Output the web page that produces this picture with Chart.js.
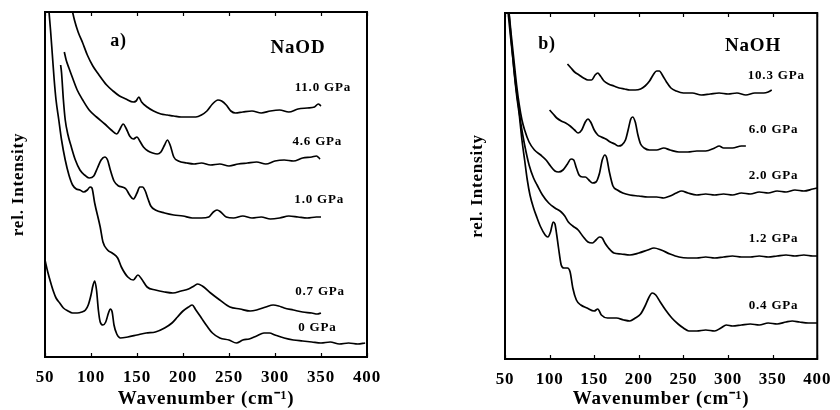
<!DOCTYPE html>
<html>
<head>
<meta charset="utf-8">
<script src="https://cdn.jsdelivr.net/npm/chart.js@4.4.1/dist/chart.umd.min.js"></script>
<style>
  html, body { margin: 0; padding: 0; background: #fff; }
  #wrap { width: 840px; height: 410px; position: relative; }
  canvas { position: absolute; top: 0; }
</style>
</head>
<body>
<div id="wrap">
  <canvas id="naod" width="420" height="410" style="left:0"></canvas>
  <canvas id="naoh" width="420" height="410" style="left:420px"></canvas>
</div>
<script>
// ---- panel a) NaOD, wavenumber (cm-1) / rel. intensity ----
const naodWave110 = [79,82,86,91,96,102,108,117,124,131,138,146,149,152,155,161,168,176,183,190,198,206,214,220,226,232,238,242,247,252,257,265,275,285,295,305,315,325,335,343,347,350];
const naodInt110  = [349,337,325,314,302,291,283,272,266,261,258,255,256,260,255,250,246,243,242,241,240,240,240,242,246,253,257,256,252,246,244,245,246,244,246,247,245,248,249,250,253,251];

const naodWave46 = [71,73,76,80,85,91,98,106,115,122,128,131,135,138,142,146,150,153,157,162,167,172,176,180,183,186,190,195,204,212,220,230,240,250,260,270,280,290,300,310,320,330,340,345,349];
const naodInt46  = [305,297,289,279,267,257,247,240,233,227,223,227,233,229,221,218,220,216,210,206,204,203,205,212,217,212,200,196,194,193,194,192,193,191,193,194,195,193,196,197,196,199,200,201,198];

const naodWave10 = [67,68,70,72,75,78,83,88,93,98,103,107,111,115,118,121,125,130,134,138,142,146,150,153,156,159,162,165,170,180,190,200,210,220,228,233,237,241,247,255,265,275,285,295,305,315,325,335,345,350];
const naodInt10  = [292,284,257,237,222,212,197,187,182,179,181,189,197,200,197,187,176,171,170,168,162,158,164,170,170,166,158,151,147,144,142,141,139,139,140,145,147,145,140,139,141,139,140,138,139,141,140,139,140,140];

const naodWave07 = [54,56,58,60,62,65,68,72,76,80,84,88,92,96,99,101,104,110,113,118,123,129,133,140,146,151,155,161,170,180,189,198,206,212,216,221,230,240,251,262,273,280,290,298,304,310,320,330,340,346,350];
const naodInt07  = [349,327,302,277,257,237,217,197,182,172,168,167,165,167,170,169,154,130,115,107,104,99,90,80,77,82,78,70,67,65,64,66,68,71,73,71,64,57,50,48,46,47,50,52,51,49,47,45,44,43,44];

const naodWave00 = [50,53,56,59,62,66,70,75,80,85,90,94,97,100,102,104,106,108,110,113,116,119,121,123,125,128,132,140,150,160,170,180,188,194,200,206,210,214,220,226,232,240,250,258,265,272,280,288,294,300,310,320,330,340,350,360,370,380,390,398];
const naodInt00  = [97,85,75,66,59,54,49,46,44,44,45,47,52,62,71,76,67,47,35,32,35,44,48,45,32,23,19,20,22,24,25,29,34,40,46,50,52,47,39,31,24,19,17,14,17,18,21,24,24,22,19,17,16,15,14,15,13,14,13,14];

const naodLabels = ['11.0 GPa', '4.6 GPa', '1.0 GPa', '0.7 GPa', '0 GPa'];

// ---- panel b) NaOH ----
const naohWave103 = [120,124,128,133,138,143,147,151,154,157,161,166,172,178,184,190,196,202,207,212,216,220,223,227,231,236,242,250,260,270,280,290,300,310,320,330,340,345,349];
const naohInt103  = [295,291,287,284,281,279,279,284,286,283,278,275,273,271,270,269,269,270,273,278,284,288,288,283,277,271,268,266,266,264,265,266,265,266,264,266,266,267,269];

const naohWave60 = [100,104,108,113,118,123,128,132,136,140,143,146,150,154,158,163,168,173,177,181,185,188,191,193,196,199,202,206,212,220,228,235,245,255,265,275,285,290,295,305,315,320];
const naohInt60  = [249,245,241,238,236,233,229,226,229,237,240,237,229,224,222,220,217,215,213,214,219,229,240,242,237,224,215,211,209,209,211,209,207,207,208,208,211,213,211,211,213,213];

const naohWave20 = [54,57,60,63,66,69,72,77,83,90,96,101,106,110,115,120,124,127,130,133,137,140,144,148,152,156,159,162,164,167,171,176,182,190,200,210,220,228,235,242,248,255,265,275,285,295,305,315,325,335,345,355,365,375,385,395,400];
const naohInt20  = [351,324,299,274,254,239,229,217,209,204,199,193,188,187,189,195,200,199,191,184,182,182,179,176,177,186,199,204,201,187,173,169,166,164,163,162,162,161,163,166,168,166,164,165,164,165,164,166,165,167,166,168,167,169,168,170,171];

const naohWave12 = [53,56,59,62,65,68,72,77,82,86,92,99,106,113,117,121,126,132,137,143,148,152,156,159,162,166,172,180,190,200,210,217,225,235,245,255,265,275,285,295,305,315,325,335,345,355,365,375,385,395,400];
const naohInt12  = [351,324,299,274,254,234,214,194,181,174,164,156,151,147,143,137,133,129,123,117,116,119,122,121,116,111,106,105,104,106,109,111,109,105,102,101,101,102,101,102,103,102,102,103,102,103,104,103,104,103,103];

const naohWave04 = [54,57,60,63,66,69,72,75,78,82,86,90,95,98,101,104,106,108,110,113,116,120,123,126,130,135,142,150,154,158,165,175,183,190,196,202,207,211,215,219,224,230,237,244,250,256,265,275,285,292,298,305,315,325,335,345,355,365,372,380,390,400];
const naohInt04  = [351,319,289,264,244,219,199,179,164,151,141,132,124,122,127,137,135,124,111,94,91,91,87,71,59,54,51,48,50,44,41,41,39,38,41,45,53,61,66,64,57,49,41,35,31,28,28,29,28,31,34,33,34,35,34,36,35,37,38,37,36,36];

const naohLabels = ['10.3 GPa', '6.0 GPa', '2.0 GPa', '1.2 GPa', '0.4 GPa'];

const xTicks = [50, 100, 150, 200, 250, 300, 350, 400];

const SERIF = "'Liberation Serif', 'Times New Roman', serif";

function series(wave, intensity, label) {
  return {
    label: label,
    data: wave.map((w, i) => ({ x: w, y: intensity[i] })),
    borderColor: '#000',
    borderWidth: 1.7,
    pointRadius: 0,
    fill: false,
    cubicInterpolationMode: 'monotone'
  };
}

// letter spacing for the scanned-looking serif text
const spacingPlugin = {
  id: 'spacing',
  beforeDraw(chart) { chart.ctx.letterSpacing = '0.8px'; }
};

// box frame with inward ticks on top and bottom
const framePlugin = {
  id: 'frame',
  afterDraw(chart) {
    const { ctx, chartArea: a } = chart;
    const xs = chart.scales.x;
    ctx.save();
    ctx.strokeStyle = '#000';
    ctx.lineWidth = 2;
    ctx.strokeRect(a.left, a.top, a.right - a.left, a.bottom - a.top);
    ctx.lineWidth = 1.2;
    ctx.beginPath();
    xTicks.forEach(v => {
      const px = Math.round(xs.getPixelForValue(v)) + 0.5;
      ctx.moveTo(px, a.bottom); ctx.lineTo(px, a.bottom - 4);
      ctx.moveTo(px, a.top); ctx.lineTo(px, a.top + 4);
    });
    ctx.stroke();
    ctx.restore();
  }
};

// pressure labels and panel captions, placed in data coordinates
const notesPlugin = {
  id: 'notes',
  afterDatasetsDraw(chart, args, opts) {
    const { ctx } = chart;
    const xs = chart.scales.x, ys = chart.scales.y;
    ctx.save();
    ctx.fillStyle = '#000';
    ctx.textAlign = 'center';
    ctx.textBaseline = 'middle';
    opts.items.forEach(it => {
      ctx.font = 'bold ' + it.size + 'px ' + SERIF;
      ctx.fillText(it.text, xs.getPixelForValue(it.x), ys.getPixelForValue(it.y));
    });
    ctx.restore();
  }
};

function makeChart(id, datasets, notes, box) {
  return new Chart(document.getElementById(id), {
    type: 'line',
    data: { datasets: datasets },
    plugins: [spacingPlugin, framePlugin, notesPlugin],
    options: {
      responsive: false,
      animation: false,
      layout: { padding: { top: box.top, right: box.right, left: 0, bottom: 0 } },
      plugins: {
        legend: { display: false },
        tooltip: { enabled: false },
        notes: { items: notes }
      },
      scales: {
        x: {
          type: 'linear',
          min: 50,
          max: 400,
          grid: { display: false, drawTicks: false, tickLength: 0 },
          border: { display: false },
          ticks: {
            stepSize: 50,
            padding: 10,
            color: '#000',
            font: { family: SERIF, size: 17, weight: 'bold' }
          },
          title: {
            display: true,
            text: 'Wavenumber (cm\u207B\u00B9)',
            color: '#000',
            padding: { top: 0, bottom: 0 },
            font: { family: SERIF, size: 19, weight: 'bold' }
          },
          afterFit: s => { s.height = box.xHeight; }
        },
        y: {
          min: 0,
          max: box.yMax,
          grid: { display: false, drawTicks: false },
          border: { display: false },
          ticks: { display: false },
          title: {
            display: true,
            text: 'rel. Intensity',
            color: '#000',
            padding: { top: box.titlePad, bottom: 0 },
            font: { family: SERIF, size: 17, weight: 'bold' }
          },
          afterFit: s => { s.width = box.yWidth; }
        }
      }
    }
  });
}

makeChart('naod', [
  series(naodWave110, naodInt110, naodLabels[0]),
  series(naodWave46, naodInt46, naodLabels[1]),
  series(naodWave10, naodInt10, naodLabels[2]),
  series(naodWave07, naodInt07, naodLabels[3]),
  series(naodWave00, naodInt00, naodLabels[4])
], [
  { text: 'a)', x: 130, y: 316, size: 18 },
  { text: 'NaOD', x: 325, y: 309, size: 19 },
  { text: naodLabels[0], x: 352, y: 269, size: 13 },
  { text: naodLabels[1], x: 346, y: 215, size: 13 },
  { text: naodLabels[2], x: 348, y: 157, size: 13 },
  { text: naodLabels[3], x: 349, y: 65, size: 13 },
  { text: naodLabels[4], x: 346, y: 29, size: 13 }
], { top: 12, right: 53, xHeight: 53, yWidth: 45, yMax: 345, titlePad: 8 });

makeChart('naoh', [
  series(naohWave103, naohInt103, naohLabels[0]),
  series(naohWave60, naohInt60, naohLabels[1]),
  series(naohWave20, naohInt20, naohLabels[2]),
  series(naohWave12, naohInt12, naohLabels[3]),
  series(naohWave04, naohInt04, naohLabels[4])
], [
  { text: 'b)', x: 97, y: 315, size: 18 },
  { text: 'NaOH', x: 328, y: 313, size: 19 },
  { text: naohLabels[0], x: 354, y: 283, size: 13 },
  { text: naohLabels[1], x: 351, y: 229, size: 13 },
  { text: naohLabels[2], x: 351, y: 183, size: 13 },
  { text: naohLabels[3], x: 351, y: 120, size: 13 },
  { text: naohLabels[4], x: 351, y: 53, size: 13 }
], { top: 13, right: 16, xHeight: 51, yWidth: 85, yMax: 346, titlePad: 47 });
</script>
</body>
</html>
